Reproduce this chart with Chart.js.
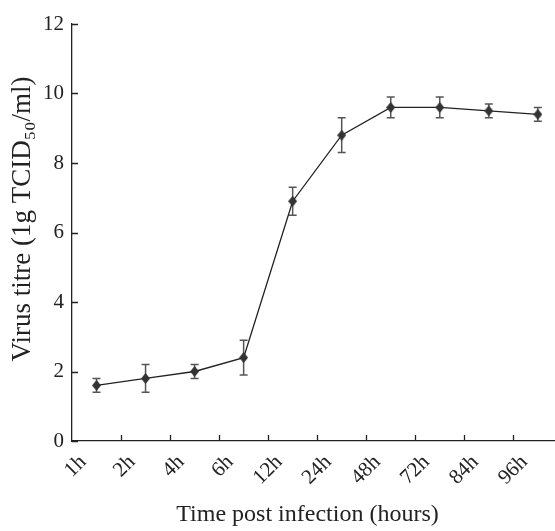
<!DOCTYPE html>
<html>
<head>
    <title>Virus titre</title>
    <style>
        body {
            margin: 0;
            background: #ffffff;
        }

        .chart-box {
            width: 555px;
            height: 531px;
        }
    </style>
</head>
<body>
    <div class="chart-box">
        <canvas id="titreChart"></canvas>
    </div>

    <script src="https://cdn.jsdelivr.net/npm/chart.js"></script>
    <script>
        var timeLabels = ['1h', '2h', '4h', '6h', '12h', '24h', '48h', '72h', '84h', '96h'];
        var titreValues = [1.6, 1.8, 2.0, 2.4, 6.9, 8.8, 9.6, 9.6, 9.5, 9.4];
        var titreErrors = [0.2, 0.4, 0.2, 0.5, 0.4, 0.5, 0.3, 0.3, 0.2, 0.2];
        var yTicks = [0, 2, 4, 6, 8, 10, 12];

        var serif = '"Liberation Serif", "Times New Roman", serif';
        var ink = '#222222';

        // points sit in the middle of each category slot
        var points = [];
        titreValues.forEach(function (v, i) {
            points.push({ x: i + 0.5, y: v });
        });

        // tall diamond marker
        var marker = document.createElement('canvas');
        marker.width = 9;
        marker.height = 11;
        var mctx = marker.getContext('2d');
        mctx.fillStyle = '#333333';
        mctx.beginPath();
        mctx.moveTo(4.5, 0);
        mctx.lineTo(9, 5.5);
        mctx.lineTo(4.5, 11);
        mctx.lineTo(0, 5.5);
        mctx.closePath();
        mctx.fill();

        // error bars + inward tick marks
        var extras = {
            id: 'extras',
            beforeDatasetsDraw: function (chart) {
                var ctx = chart.ctx;
                var xs = chart.scales.x;
                var ys = chart.scales.y;
                ctx.save();
                ctx.strokeStyle = '#555555';
                ctx.lineWidth = 1.5;
                titreValues.forEach(function (v, i) {
                    var px = xs.getPixelForValue(i + 0.5);
                    var top = ys.getPixelForValue(v + titreErrors[i]);
                    var bot = ys.getPixelForValue(v - titreErrors[i]);
                    ctx.beginPath();
                    ctx.moveTo(px, top);
                    ctx.lineTo(px, bot);
                    ctx.moveTo(px - 4, top);
                    ctx.lineTo(px + 4, top);
                    ctx.moveTo(px - 4, bot);
                    ctx.lineTo(px + 4, bot);
                    ctx.stroke();
                });
                ctx.restore();
            },
            afterDraw: function (chart) {
                var ctx = chart.ctx;
                var xs = chart.scales.x;
                var ys = chart.scales.y;
                var area = chart.chartArea;
                ctx.save();
                ctx.strokeStyle = ink;
                ctx.lineWidth = 1.3;
                ctx.beginPath();
                yTicks.forEach(function (t) {
                    var py = Math.round(ys.getPixelForValue(t)) + 0.5;
                    ctx.moveTo(area.left, py);
                    ctx.lineTo(area.left + 6, py);
                });
                for (var i = 1; i < timeLabels.length; i++) {
                    var px = Math.round(xs.getPixelForValue(i)) + 0.5;
                    ctx.moveTo(px, area.bottom);
                    ctx.lineTo(px, area.bottom - 6);
                }
                ctx.stroke();
                ctx.restore();
            }
        };

        var ctx = document.getElementById('titreChart').getContext('2d');
        var titreChart = new Chart(ctx, {
            type: 'line',
            data: {
                datasets: [{
                    data: points,
                    borderColor: ink,
                    borderWidth: 1.3,
                    pointStyle: marker,
                    pointRadius: 5,
                    tension: 0
                }]
            },
            options: {
                responsive: true,
                maintainAspectRatio: false,
                animation: false,
                layout: {
                    autoPadding: false,
                    padding: { top: 24, right: 0, left: 0, bottom: 0 }
                },
                plugins: {
                    legend: { display: false },
                    tooltip: { enabled: false }
                },
                scales: {
                    x: {
                        type: 'linear',
                        min: 0,
                        max: 9.85,
                        afterBuildTicks: function (scale) {
                            scale.ticks = timeLabels.map(function (l, i) {
                                return { value: i };
                            });
                        },
                        afterFit: function (scale) {
                            scale.height = 90;
                            scale.paddingRight = 0;
                            scale.paddingLeft = 0;
                        },
                        grid: { display: false, drawTicks: false },
                        border: { display: true, color: ink, width: 1.3 },
                        ticks: {
                            autoSkip: false,
                            minRotation: 45,
                            maxRotation: 45,
                            padding: 9,
                            labelOffset: 11,
                            color: ink,
                            font: { family: serif, size: 21 },
                            callback: function (value) {
                                return timeLabels[value];
                            }
                        },
                        title: {
                            display: true,
                            // trailing spaces nudge the title a little left
                            text: 'Time post infection (hours)  ',
                            color: ink,
                            font: { family: serif, size: 24 },
                            padding: { top: 0, bottom: 2 }
                        }
                    },
                    y: {
                        min: 0,
                        max: 12,
                        afterBuildTicks: function (scale) {
                            scale.ticks = yTicks.map(function (t) {
                                return { value: t };
                            });
                        },
                        afterFit: function (scale) {
                            scale.width = 72;
                        },
                        grid: { display: false, drawTicks: false },
                        border: { display: true, color: ink, width: 1.3 },
                        ticks: {
                            padding: 8,
                            color: ink,
                            font: { family: serif, size: 21 }
                        },
                        title: {
                            display: true,
                            // leading spaces nudge the title upward like the original
                            text: '    Virus titre (1g TCID\u2085\u2080/ml)',
                            color: ink,
                            font: { family: serif, size: 27 },
                            padding: { top: 7, bottom: 0 }
                        }
                    }
                }
            },
            plugins: [extras]
        });
    </script>
</body>
</html>
